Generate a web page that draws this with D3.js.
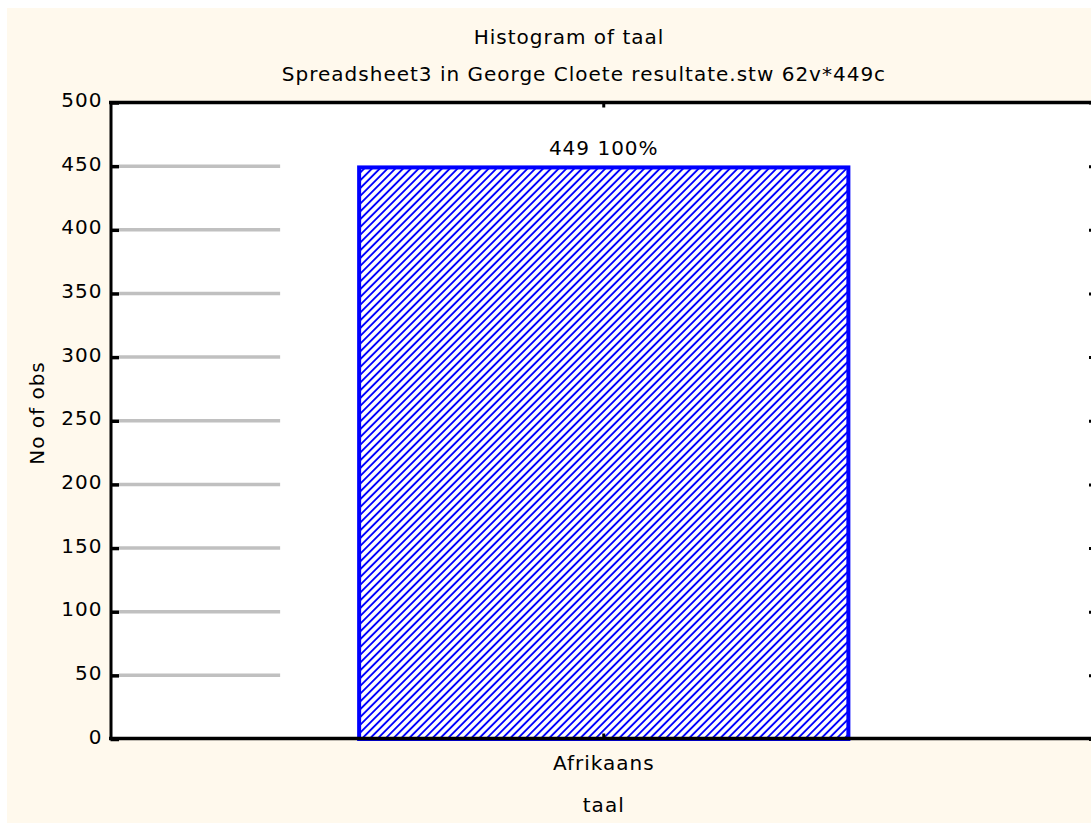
<!DOCTYPE html>
<html>
<head>
<meta charset="utf-8">
<script src="https://cdn.jsdelivr.net/npm/d3@7"></script>
<style>
    body { margin: 0; background: #fff; }
    svg { display: block; }
    text { font-family: "DejaVu Sans", sans-serif; font-size: 20px; letter-spacing: 1px; fill: #000; }
</style>
</head>
<body>
<div id="chart"></div>
<script>
// chart data
const categories = ["Afrikaans"];
const counts = [449];
const barLabels = ["449 100%"];
const yTicks = [0, 50, 100, 150, 200, 250, 300, 350, 400, 450, 500];

const titleText = "Histogram of taal";
const subtitleText = "Spreadsheet3 in George Cloete resultate.stw 62v*449c";
const xTitle = "taal";
const yTitle = "No of obs";

function drawChart() {
    const width = 1091;
    const height = 823;
    const margin = { top: 102.5, right: -6, bottom: 84.5, left: 110.5 };

    const svg = d3.select("#chart")
        .append("svg")
        .attr("width", width)
        .attr("height", height);

    // hatch for the bar
    const defs = svg.append("defs");
    defs.append("pattern")
        .attr("id", "hatch")
        .attr("patternUnits", "userSpaceOnUse")
        .attr("width", 5.5)
        .attr("height", 5.5)
        .attr("patternTransform", "rotate(45)")
        .call(p => {
            p.append("rect").attr("width", 5.5).attr("height", 5.5).attr("fill", "#fff");
            p.append("line")
                .attr("x1", 2.75).attr("y1", 0).attr("x2", 2.75).attr("y2", 5.5)
                .attr("stroke", "#0000ff")
                .attr("stroke-width", 1.9);
        });

    // cream background
    svg.append("rect")
        .attr("x", 7).attr("y", 8)
        .attr("width", width - 7).attr("height", height - 8)
        .attr("fill", "#fff9ed");

    const x0 = margin.left, x1 = width - margin.right;
    const y0 = height - margin.bottom, y1 = margin.top;

    const xScale = d3.scaleBand()
        .domain(categories)
        .range([x0, x1])
        .paddingInner(0)
        .paddingOuter(0.5);

    const yScale = d3.scaleLinear()
        .domain([0, 500])
        .range([y0 + 0.5, y1]);

    // plot area
    svg.append("rect")
        .attr("x", x0).attr("y", y1)
        .attr("width", x1 - x0).attr("height", y0 - y1)
        .attr("fill", "#fff");

    // short gray grid lines on the left
    const gridEnd = xScale(categories[0]) - 77;
    svg.append("g")
        .selectAll("line")
        .data(yTicks.filter(d => d > 0 && d < 500))
        .join("line")
        .attr("x1", x0 + 8.5)
        .attr("x2", gridEnd)
        .attr("y1", d => yScale(d))
        .attr("y2", d => yScale(d))
        .attr("stroke", "#c0c0c0")
        .attr("stroke-width", 3.5);

    // bar
    svg.append("g")
        .selectAll("rect")
        .data(counts)
        .join("rect")
        .attr("x", (d, i) => xScale(categories[i]) + 2)
        .attr("y", d => yScale(d))
        .attr("width", xScale.bandwidth() - 4)
        .attr("height", d => yScale(0) - yScale(d))
        .attr("fill", "url(#hatch)")
        .attr("stroke", "#0000ff")
        .attr("stroke-width", 4);

    svg.append("g")
        .selectAll("text")
        .data(barLabels)
        .join("text")
        .attr("x", (d, i) => xScale(categories[i]) + xScale.bandwidth() / 2)
        .attr("y", (d, i) => yScale(counts[i]) - 19)
        .attr("text-anchor", "middle")
        .attr("dominant-baseline", "central")
        .text(d => d);

    // left axis
    const left = svg.append("g")
        .attr("transform", `translate(${x0},0)`)
        .call(d3.axisLeft(yScale).tickValues(yTicks).tickSize(-8.5).tickPadding(8).tickSizeOuter(0));
    left.select(".domain").attr("stroke", "#000").attr("stroke-width", 3);
    left.selectAll(".tick line").attr("stroke", "#000").attr("stroke-width", 3.5);
    left.selectAll(".tick text")
        .attr("dy", null)
        .attr("y", -3)
        .attr("dominant-baseline", "central")
        .style("font-family", "DejaVu Sans")
        .style("font-size", "20px");

    // right axis (mostly off the picture)
    const right = svg.append("g")
        .attr("transform", `translate(${x1},0)`)
        .call(d3.axisRight(yScale).tickValues(yTicks).tickSize(-8).tickFormat("").tickSizeOuter(0));
    right.select(".domain").attr("stroke", "#000").attr("stroke-width", 3);
    right.selectAll(".tick line").attr("stroke", "#000").attr("stroke-width", 3);

    // top and bottom frame lines with a small category tick
    [y1, y0].forEach((yy, k) => {
        const g = svg.append("g");
        g.append("line")
            .attr("x1", x0 - 1.5).attr("x2", x1)
            .attr("y1", yy).attr("y2", yy)
            .attr("stroke", "#000").attr("stroke-width", 3.5);
        g.selectAll(".ctick")
            .data(categories)
            .join("line")
            .attr("x1", d => xScale(d) + xScale.bandwidth() / 2)
            .attr("x2", d => xScale(d) + xScale.bandwidth() / 2)
            .attr("y1", yy)
            .attr("y2", k === 0 ? yy + 5 : yy - 5)
            .attr("stroke", "#000").attr("stroke-width", 3);
    });

    // category labels
    svg.append("g")
        .selectAll("text")
        .data(categories)
        .join("text")
        .attr("x", d => xScale(d) + xScale.bandwidth() / 2)
        .attr("y", 763)
        .attr("text-anchor", "middle")
        .attr("dominant-baseline", "central")
        .text(d => d);

    // titles
    svg.append("text")
        .attr("x", 569).attr("y", 37)
        .attr("text-anchor", "middle")
        .attr("dominant-baseline", "central")
        .text(titleText);

    svg.append("text")
        .attr("x", 584).attr("y", 74)
        .attr("text-anchor", "middle")
        .attr("dominant-baseline", "central")
        .text(subtitleText);

    svg.append("text")
        .attr("x", xScale(categories[0]) + xScale.bandwidth() / 2)
        .attr("y", 805)
        .attr("text-anchor", "middle")
        .attr("dominant-baseline", "central")
        .text(xTitle);

    svg.append("text")
        .attr("transform", "translate(37,413) rotate(-90)")
        .attr("text-anchor", "middle")
        .attr("dominant-baseline", "central")
        .text(yTitle);
}

document.addEventListener("DOMContentLoaded", drawChart);
</script>
</body>
</html>
